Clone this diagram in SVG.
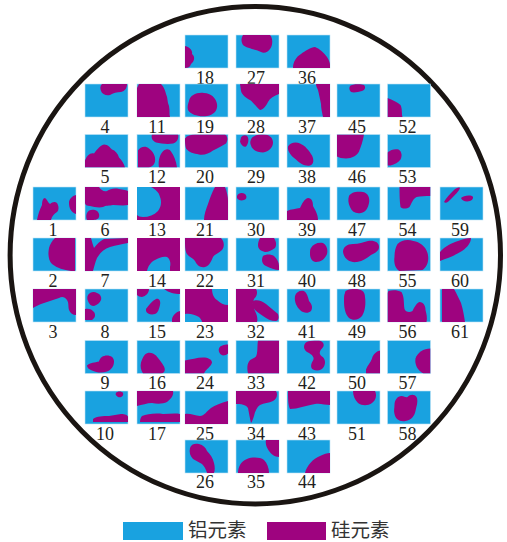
<svg xmlns="http://www.w3.org/2000/svg" width="507" height="542" viewBox="0 0 507 542">
<defs>
<style>
.al{fill:#19A2E0}
.si{fill:#9E037F}
.tile{fill:#19A2E0;stroke:#bfe3f5;stroke-width:0.6}
.lb{font-family:"Liberation Serif","Times New Roman",serif;font-size:18px;fill:#231f20;text-anchor:middle}
.lg{font-family:"Noto Sans CJK SC","Noto Sans",sans-serif;font-size:19.5px;fill:#333}
</style>
<clipPath id="c"><rect width="43" height="33"/></clipPath>
</defs>
<rect width="507" height="542" fill="#fff"/>
<g id="wafer"><ellipse cx="255.3" cy="255.3" rx="245.2" ry="248.7" fill="none" stroke="#1a1512" stroke-width="5"/></g>

<!-- Row A -->
<g id="n18" transform="translate(185,35)"><rect class="tile" width="43" height="33"/><g clip-path="url(#c)"><path class="si" d="M0,11 C5,12 8,16 7,19 C10,21 10,26 6,29 C5,32 3,33 0,33 Z"/></g><text class="lb" x="20" y="48.5">18</text></g>
<g id="n27" transform="translate(236,35)"><rect class="tile" width="43" height="33"/><g clip-path="url(#c)"><path class="si" d="M7,0 L34,0 C37,3 37,10 34,14 C32,17 28,19 25,17 C18,14 10,13 7,10 C5,7 5,3 7,0 Z"/></g><text class="lb" x="20" y="48.5">27</text></g>
<g id="n36" transform="translate(287,35)"><rect class="tile" width="43" height="33"/><g clip-path="url(#c)"><path class="si" d="M6,33 C6,27 9,22 14,19 C18,16 24,12 28,12 C33,14 37,18 40,22 C42,25 43,28 43,30 L43,33 Z"/></g><text class="lb" x="20" y="48.5">36</text></g>

<!-- Row B -->
<g id="n4" transform="translate(85,84)"><rect class="tile" width="43" height="33"/><g clip-path="url(#c)"><path class="si" d="M17,0 L42,0 C42,4 40,7 36,8 C32,8 28,9 25,11 C21,12 17,10 16,7 C15,4 15,2 17,0 Z"/></g><text class="lb" x="20" y="48.5">4</text></g>
<g id="n11" transform="translate(137,84)"><rect class="tile" width="43" height="33"/><g clip-path="url(#c)"><path class="si" d="M2,0 L24,0 C27,3 28,6 29,10 C31,14 30,18 32,22 C33,27 32,30 33,33 L0,33 L0,4 Z"/></g><text class="lb" x="20" y="48.5">11</text></g>
<g id="n19" transform="translate(185,84)"><rect class="tile" width="43" height="33"/><g clip-path="url(#c)"><path class="si" d="M4,17 C5,11 12,8 19,9 C26,9 31,14 32,20 C33,26 29,31 22,32 C14,33 6,31 3,26 C2,23 3,20 4,17 Z"/></g><text class="lb" x="20" y="48.5">19</text></g>
<g id="n28" transform="translate(236,84)"><rect class="tile" width="43" height="33"/><g clip-path="url(#c)"><path class="si" d="M4,0 L43,0 L43,10 C38,12 34,14 32,18 C30,22 27,26 24,26 C21,24 18,19 14,16 C10,14 6,11 5,7 Z"/></g><text class="lb" x="20" y="48.5">28</text></g>
<g id="n37" transform="translate(287,84)"><rect class="tile" width="43" height="33"/><g clip-path="url(#c)"><path class="si" d="M29,0 L43,0 L43,33 L36,33 C35,28 34,24 34,20 C33,15 32,10 31,6 C30,4 29,2 29,0 Z"/></g><text class="lb" x="20" y="48.5">37</text></g>
<g id="n45" transform="translate(337,84)"><rect class="tile" width="43" height="33"/><g clip-path="url(#c)"><path class="si" d="M13,2 C15,0 24,0 27,1 C29,3 28,6 25,7 C21,8 17,9 14,8 C12,6 12,4 13,2 Z"/></g><text class="lb" x="20" y="48.5">45</text></g>
<g id="n52" transform="translate(387.5,84)"><rect class="tile" width="43" height="33"/><g clip-path="url(#c)"><path class="si" d="M0,14 C5,16 10,18 13,21 C15,25 14,30 15,33 L0,33 Z"/></g><text class="lb" x="20" y="48.5">52</text></g>

<!-- Row C -->
<g id="n5" transform="translate(85,134.5)"><rect class="tile" width="43" height="33"/><g clip-path="url(#c)"><path class="si" d="M0,26 C2,21 5,18 9,19 C12,15 15,11 19,10 C23,10 25,13 27,15 C30,16 33,19 34,23 C37,26 39,29 40,33 L0,33 Z"/></g><text class="lb" x="20" y="48.5">5</text></g>
<g id="n12" transform="translate(137,134.5)"><rect class="tile" width="43" height="33"/><g clip-path="url(#c)"><path class="si" d="M15,0 L41,0 C42,4 40,8 36,9 C30,10 24,9 19,8 C15,6 14,3 15,0 Z M1,16 C3,12 9,11 12,14 C16,17 19,22 18,27 C17,31 14,33 10,33 L1,33 Z M22,33 C21,28 22,22 25,18 C28,14 32,14 34,17 C37,21 39,26 40,33 Z"/></g><text class="lb" x="20" y="48.5">12</text></g>
<g id="n20" transform="translate(185,134.5)"><rect class="tile" width="43" height="33"/><g clip-path="url(#c)"><path class="si" d="M0,4 C2,1 6,0 10,0 L40,0 C43,2 43,6 41,9 C37,11 33,14 28,16 C24,19 19,21 14,20 C9,19 4,18 1,14 C0,11 0,7 0,4 Z"/></g><text class="lb" x="20" y="48.5">20</text></g>
<g id="n29" transform="translate(236,134.5)"><rect class="tile" width="43" height="33"/><g clip-path="url(#c)"><path class="si" d="M5,3 C7,0 11,0 12,3 C13,6 12,10 10,12 C7,13 5,10 4,7 Z M15,5 C16,1 22,0 28,0 C33,0 37,3 37,8 C37,13 33,17 27,18 C21,18 16,15 15,11 C14,9 14,7 15,5 Z"/></g><text class="lb" x="20" y="48.5">29</text></g>
<g id="n38" transform="translate(287,134.5)"><rect class="tile" width="43" height="33"/><g clip-path="url(#c)"><path class="si" d="M1,12 C3,8 9,7 13,9 C18,11 22,16 25,21 C27,25 27,30 23,31 C18,32 13,29 9,25 C5,22 0,17 1,12 Z"/></g><text class="lb" x="20" y="48.5">38</text></g>
<g id="n46" transform="translate(337,134.5)"><rect class="tile" width="43" height="33"/><g clip-path="url(#c)"><path class="si" d="M0,0 L27,0 C26,6 24,12 22,17 C20,21 15,24 9,24 C5,24 2,23 0,22 Z"/></g><text class="lb" x="20" y="48.5">46</text></g>
<g id="n53" transform="translate(387.5,134.5)"><rect class="tile" width="43" height="33"/><g clip-path="url(#c)"><path class="si" d="M0,18 C3,15 8,14 11,15 C14,17 15,21 13,25 C11,28 7,30 3,31 L0,31 Z"/></g><text class="lb" x="20" y="48.5">53</text></g>

<!-- Row D -->
<g id="n1" transform="translate(33,187)"><rect class="tile" width="43" height="33"/><g clip-path="url(#c)"><path class="si" d="M4,33 C5,27 7,22 9,18 C9,14 10,11 12,11 C14,12 15,16 17,17 C19,15 22,14 24,16 C26,19 26,23 24,25 C21,27 19,29 18,33 Z M43,8 C39,9 36,12 36,16 C36,21 38,25 43,27 Z"/></g><text class="lb" x="20" y="48.5">1</text></g>
<g id="n6" transform="translate(85,187)"><rect class="tile" width="43" height="33"/><g clip-path="url(#c)"><path class="si" d="M0,0 L14,0 C16,3 19,5 22,4 C25,2 29,1 34,2 C38,3 42,3 43,4 L43,18 C38,19 33,18 28,18 C24,19 21,18 18,20 C14,21 9,20 5,19 C2,19 0,18 0,16 Z M2,26 C3,23 7,22 10,23 C13,24 15,27 14,30 C13,33 9,33 6,33 L2,33 C1,31 1,28 2,26 Z"/></g><text class="lb" x="20" y="48.5">6</text></g>
<g id="n13" transform="translate(137,187)"><rect class="si" width="43" height="33"/><path class="al" d="M0,0 L14,0 C18,2 22,5 23,10 C25,15 24,20 21,24 C17,28 12,30 6,30 C3,30 1,29 0,28 Z"/><text class="lb" x="20" y="48.5">13</text></g>
<g id="n21" transform="translate(185,187)"><rect class="tile" width="43" height="33"/><g clip-path="url(#c)"><path class="si" d="M30,0 L40,0 C42,5 43,10 43,14 L43,33 L19,33 C19,28 21,22 23,17 C25,11 27,5 30,0 Z"/></g><text class="lb" x="20" y="48.5">21</text></g>
<g id="n30" transform="translate(236,187)"><rect class="tile" width="43" height="33"/><g clip-path="url(#c)"><path class="si" d="M1,9 C2,6 6,5 9,7 C11,9 11,12 8,13 C5,14 2,13 1,11 Z"/></g><text class="lb" x="20" y="48.5">30</text></g>
<g id="n39" transform="translate(287,187)"><rect class="tile" width="43" height="33"/><g clip-path="url(#c)"><path class="si" d="M0,24 C4,22 9,22 13,21 C15,17 17,12 21,11 C25,11 26,15 26,19 C28,23 31,27 31,33 L0,33 Z"/></g><text class="lb" x="20" y="48.5">39</text></g>
<g id="n47" transform="translate(337,187)"><rect class="tile" width="43" height="33"/><g clip-path="url(#c)"><path class="si" d="M12,9 C14,5 20,4 26,5 C31,6 33,11 32,16 C31,21 29,25 24,26 C19,27 15,25 13,20 C11,16 11,12 12,9 Z"/></g><text class="lb" x="20" y="48.5">47</text></g>
<g id="n54" transform="translate(387.5,187)"><rect class="tile" width="43" height="33"/><g clip-path="url(#c)"><path class="si" d="M12,0 L43,0 L43,9 C38,9 33,9 29,10 C25,12 24,17 22,20 C19,22 15,22 13,20 C12,14 12,6 12,0 Z"/></g><text class="lb" x="20" y="48.5">54</text></g>
<g id="n59" transform="translate(440,187)"><rect class="tile" width="43" height="33"/><g clip-path="url(#c)"><path class="si" d="M4,15 C6,11 10,7 14,3 C16,1 19,0 20,1 C19,4 15,8 11,12 C8,15 6,17 4,15 Z M21,11 C23,9 28,8 32,9 C34,10 33,13 30,14 C26,15 22,14 21,11 Z"/></g><text class="lb" x="20" y="48.5">59</text></g>

<!-- Row E -->
<g id="n2" transform="translate(33,238)"><rect class="tile" width="43" height="33"/><g clip-path="url(#c)"><path class="si" d="M22,0 L42,0 L42,33 L38,33 C31,32 24,30 19,26 C15,22 15,15 16,10 C17,6 19,3 22,0 Z"/></g><text class="lb" x="20" y="48.5">2</text></g>
<g id="n7" transform="translate(85,238)"><rect class="tile" width="43" height="33"/><g clip-path="url(#c)"><path class="si" d="M0,33 L0,0 L6,0 C7,4 8,7 9,10 C12,6 15,3 19,1 L43,0 L43,5 C38,6 31,7 25,9 C19,11 15,15 12,20 C10,25 9,29 8,33 Z"/></g><text class="lb" x="20" y="48.5">7</text></g>
<g id="n14" transform="translate(137,238)"><rect class="si" width="43" height="33"/><path class="al" d="M10,33 C11,28 14,24 18,22 C22,20 26,18 30,19 C33,21 34,25 33,29 L33,33 Z"/><text class="lb" x="20" y="48.5">14</text></g>
<g id="n22" transform="translate(185,238)"><rect class="tile" width="43" height="33"/><g clip-path="url(#c)"><path class="si" d="M0,0 L36,0 C39,3 40,8 37,12 C34,15 30,16 28,19 C26,24 24,28 20,29 C15,30 12,27 10,23 C8,20 4,19 2,16 C0,13 0,8 0,0 Z"/></g><text class="lb" x="20" y="48.5">22</text></g>
<g id="n31" transform="translate(236,238)"><rect class="tile" width="43" height="33"/><g clip-path="url(#c)"><path class="si" d="M24,0 L38,0 C40,3 41,7 39,10 C36,12 33,14 29,14 C25,13 22,11 22,7 C22,4 23,2 24,0 Z M27,18 C30,16 35,16 38,18 C41,21 43,24 43,28 L43,32 C39,32 34,30 30,28 C26,26 25,22 27,18 Z"/></g><text class="lb" x="20" y="48.5">31</text></g>
<g id="n40" transform="translate(287,238)"><rect class="tile" width="43" height="33"/><g clip-path="url(#c)"><path class="si" d="M24,10 C26,6 31,4 36,5 C40,7 41,12 40,16 C38,21 34,24 29,24 C25,24 23,20 23,16 C23,13 23,11 24,10 Z"/></g><text class="lb" x="20" y="48.5">40</text></g>
<g id="n48" transform="translate(337,238)"><rect class="tile" width="43" height="33"/><g clip-path="url(#c)"><path class="si" d="M6,14 C6,9 10,6 16,6 C22,6 26,4 31,3 C37,2 42,4 42,9 C42,13 38,15 34,17 C30,20 26,23 20,24 C13,25 7,21 6,14 Z"/></g><text class="lb" x="20" y="48.5">48</text></g>
<g id="n55" transform="translate(387.5,238)"><rect class="tile" width="43" height="33"/><g clip-path="url(#c)"><path class="si" d="M10,6 C14,2 20,1 26,3 C32,4 38,8 40,15 C42,22 40,29 35,32 L12,33 C8,31 6,25 7,19 C7,14 8,9 10,6 Z"/></g><text class="lb" x="20" y="48.5">55</text></g>
<g id="n60" transform="translate(440,238)"><rect class="tile" width="43" height="33"/><g clip-path="url(#c)"><path class="si" d="M0,14 C5,8 12,5 18,3 C23,1 27,0 31,0 C31,4 28,9 22,13 C16,17 8,20 0,23 Z"/></g><text class="lb" x="20" y="48.5">60</text></g>

<!-- Row F -->
<g id="n3" transform="translate(33,289)"><rect class="tile" width="43" height="33"/><g clip-path="url(#c)"><path class="si" d="M0,0 L43,0 L43,26 C40,26 37,24 36,21 C35,17 36,14 34,11 C32,8 29,7 26,9 C20,11 14,13 8,15 C5,16 2,18 0,19 Z"/></g><text class="lb" x="20" y="48.5">3</text></g>
<g id="n8" transform="translate(85,289)"><rect class="tile" width="43" height="33"/><g clip-path="url(#c)"><path class="si" d="M3,6 C5,3 9,2 12,4 C15,5 17,8 16,11 C15,14 12,16 9,17 C6,17 4,15 3,12 C2,10 2,8 3,6 Z M0,20 C3,19 7,20 9,23 C11,26 10,29 7,31 L0,31 Z"/></g><text class="lb" x="20" y="48.5">8</text></g>
<g id="n15" transform="translate(137,289)"><rect class="tile" width="43" height="33"/><g clip-path="url(#c)"><path class="si" d="M0,0 L12,0 C12,4 9,7 5,8 C3,8 1,7 0,6 Z M9,20 C12,16 15,12 19,10 C22,9 24,12 23,16 C22,20 21,24 18,25 C14,26 10,25 9,22 Z M27,0 L43,0 L43,5 C38,5 32,4 27,0 Z M43,22 C39,23 36,26 35,30 L35,33 L43,33 Z"/></g><text class="lb" x="20" y="48.5">15</text></g>
<g id="n23" transform="translate(185,289)"><rect class="si" width="43" height="33"/><path class="al" d="M27,0 L43,0 L43,16 C39,16 35,14 32,11 C29,9 27,5 27,0 Z M0,25 C5,24 10,26 14,28 C16,30 17,32 17,33 L0,33 Z"/><text class="lb" x="20" y="48.5">23</text></g>
<g id="n32" transform="translate(236,289)"><rect class="tile" width="43" height="33"/><g clip-path="url(#c)"><path class="si" d="M0,0 L20,0 C22,3 21,7 18,10 C16,14 17,18 19,22 C21,26 22,30 21,33 L0,33 Z M17,12 C21,10 26,12 30,15 C34,18 38,22 42,25 C43,28 43,31 40,32 C35,32 31,30 27,27 C23,24 19,22 17,18 Z"/></g><text class="lb" x="20" y="48.5">32</text></g>
<g id="n41" transform="translate(287,289)"><rect class="tile" width="43" height="33"/><g clip-path="url(#c)"><path class="si" d="M8,7 C9,3 13,1 17,2 C20,4 21,8 22,12 C25,15 26,19 24,22 C21,25 16,24 13,21 C10,18 7,13 8,7 Z"/></g><text class="lb" x="20" y="48.5">41</text></g>
<g id="n49" transform="translate(337,289)"><rect class="tile" width="43" height="33"/><g clip-path="url(#c)"><path class="si" d="M8,4 C8,1 12,0 18,0 C24,0 28,2 28,8 C29,15 28,22 25,27 C22,31 16,32 12,29 C8,25 7,18 7,12 C7,8 7,6 8,4 Z"/></g><text class="lb" x="20" y="48.5">49</text></g>
<g id="n56" transform="translate(387.5,289)"><rect class="tile" width="43" height="33"/><g clip-path="url(#c)"><path class="si" d="M1,2 C5,1 10,1 14,3 C17,8 16,14 17,20 C18,23 22,24 25,22 C27,18 29,14 32,13 C36,13 38,17 38,21 C39,25 40,29 39,33 L0,33 L0,4 Z"/></g><text class="lb" x="20" y="48.5">56</text></g>
<g id="n61" transform="translate(440,289)"><rect class="tile" width="43" height="33"/><g clip-path="url(#c)"><path class="si" d="M2,0 L14,0 C17,5 19,10 21,14 C23,20 24,27 25,33 L2,33 Z"/></g><text class="lb" x="20" y="48.5">61</text></g>

<!-- Row G -->
<g id="n9" transform="translate(85,340.5)"><rect class="tile" width="43" height="33"/><g clip-path="url(#c)"><path class="si" d="M2,25 C5,22 10,22 14,21 C15,17 18,15 22,15 C26,15 29,17 29,21 C29,25 27,29 22,31 C17,33 11,32 7,30 C4,29 2,27 2,25 Z"/></g><text class="lb" x="20" y="48.5">9</text></g>
<g id="n16" transform="translate(137,340.5)"><rect class="tile" width="43" height="33"/><g clip-path="url(#c)"><path class="si" d="M8,14 C11,11 16,12 19,15 C22,19 25,22 27,26 C29,30 27,33 24,33 L6,33 C4,30 3,26 4,22 C5,19 6,16 8,14 Z"/></g><text class="lb" x="20" y="48.5">16</text></g>
<g id="n24" transform="translate(185,340.5)"><rect class="tile" width="43" height="33"/><g clip-path="url(#c)"><path class="si" d="M0,20 C6,19 12,17 18,17 C23,17 27,19 27,22 C26,26 22,28 20,31 L19,33 L0,33 Z M43,4 C39,4 35,5 34,8 C33,11 35,14 38,15 C40,15 42,14 43,13 Z"/></g><text class="lb" x="20" y="48.5">24</text></g>
<g id="n33" transform="translate(236,340.5)"><rect class="tile" width="43" height="33"/><g clip-path="url(#c)"><path class="si" d="M22,0 L43,0 L43,33 L12,33 C11,29 11,24 13,21 C15,18 18,18 20,16 C22,12 21,6 22,0 Z"/></g><text class="lb" x="20" y="48.5">33</text></g>
<g id="n42" transform="translate(287,340.5)"><rect class="tile" width="43" height="33"/><g clip-path="url(#c)"><path class="si" d="M18,3 C20,0 26,0 32,0 C37,1 38,5 35,8 C32,11 32,14 35,16 C38,18 39,22 37,26 C35,30 30,31 26,29 C23,27 24,23 26,20 C28,17 25,14 21,12 C17,10 16,6 18,3 Z"/></g><text class="lb" x="20" y="48.5">42</text></g>
<g id="n50" transform="translate(337,340.5)"><rect class="tile" width="43" height="33"/><g clip-path="url(#c)"><path class="si" d="M43,10 C39,11 36,14 35,18 C34,22 30,25 29,29 L29,33 L43,33 Z"/></g><text class="lb" x="20" y="48.5">50</text></g>
<g id="n57" transform="translate(387.5,340.5)"><rect class="tile" width="43" height="33"/><g clip-path="url(#c)"><path class="si" d="M43,8 C36,8 30,12 28,18 C27,24 30,30 36,33 L43,33 Z"/></g><text class="lb" x="20" y="48.5">57</text></g>

<!-- Row H -->
<g id="n10" transform="translate(85,391)"><rect class="tile" width="43" height="33"/><g clip-path="url(#c)"><path class="si" d="M31,2 C32,0 37,0 38,2 C39,5 36,7 33,6 C31,5 30,3 31,2 Z M8,28 C12,25 18,25 24,25 C28,24 32,24 36,23 C40,23 43,24 43,26 L43,31 L8,31 Z"/></g><text class="lb" x="20" y="48.5">10</text></g>
<g id="n17" transform="translate(137,391)"><rect class="tile" width="43" height="33"/><g clip-path="url(#c)"><path class="si" d="M0,0 L36,0 C37,4 34,8 30,11 C26,13 20,13 15,12 C10,12 5,14 0,15 Z M5,25 C10,23 18,22 26,23 C32,23 38,22 43,23 L43,31 L3,31 C3,28 4,26 5,25 Z"/></g><text class="lb" x="20" y="48.5">17</text></g>
<g id="n25" transform="translate(185,391)"><rect class="tile" width="43" height="33"/><g clip-path="url(#c)"><path class="si" d="M0,23 C5,22 10,25 15,25 C19,25 22,20 26,17 C30,14 36,12 43,10 L43,33 L0,33 Z"/></g><text class="lb" x="20" y="48.5">25</text></g>
<g id="n34" transform="translate(236,391)"><rect class="tile" width="43" height="33"/><g clip-path="url(#c)"><path class="si" d="M0,0 L40,0 C42,3 41,8 37,10 C33,12 28,12 24,14 C21,16 19,20 18,25 C17,28 16,31 15,32 C14,28 13,22 12,17 C10,14 6,13 3,13 L0,13 Z"/></g><text class="lb" x="20" y="48.5">34</text></g>
<g id="n43" transform="translate(287,391)"><rect class="tile" width="43" height="33"/><g clip-path="url(#c)"><path class="si" d="M1,0 L43,0 L43,14 C38,14 33,12 28,13 C23,14 19,15 15,16 C11,17 7,18 3,18 C1,14 1,6 1,0 Z"/></g><text class="lb" x="20" y="48.5">43</text></g>
<g id="n51" transform="translate(337,391)"><rect class="tile" width="43" height="33"/><g clip-path="url(#c)"><path class="si" d="M16,0 L38,0 C40,4 39,9 35,12 C31,15 25,15 21,12 C18,9 16,5 16,0 Z"/></g><text class="lb" x="20" y="48.5">51</text></g>
<g id="n58" transform="translate(387.5,391)"><rect class="tile" width="43" height="33"/><g clip-path="url(#c)"><path class="si" d="M7,14 C7,9 10,5 14,5 C17,5 18,7 20,6 C23,3 27,3 29,6 C31,10 29,15 28,20 C27,25 24,29 18,30 C12,31 8,28 7,23 C6,20 7,17 7,14 Z"/></g><text class="lb" x="20" y="48.5">58</text></g>

<!-- Row I -->
<g id="n26" transform="translate(185,440)"><rect class="tile" width="43" height="33"/><g clip-path="url(#c)"><path class="si" d="M5,8 C6,4 10,3 14,4 C18,5 21,8 22,11 C25,14 28,18 29,23 C30,27 30,30 29,33 L22,33 C21,29 19,26 17,24 C14,22 11,21 8,19 C5,16 4,12 5,8 Z"/></g><text class="lb" x="20" y="48">26</text></g>
<g id="n35" transform="translate(236,440)"><rect class="tile" width="43" height="33"/><g clip-path="url(#c)"><path class="si" d="M2,33 C2,27 5,21 11,19 C16,17 24,17 28,20 C31,23 33,28 33,33 Z M30,0 L43,0 L43,17 C39,17 35,14 33,11 C31,8 29,4 30,0 Z"/></g><text class="lb" x="20" y="48">35</text></g>
<g id="n44" transform="translate(287,440)"><rect class="tile" width="43" height="33"/><g clip-path="url(#c)"><path class="si" d="M18,33 C20,25 26,19 33,16 C37,14 40,13 43,13 L43,33 Z"/></g><text class="lb" x="20" y="48">44</text></g>

<!-- Legend -->
<g id="legend-al"><rect class="al" x="123" y="522" width="60" height="18"/><text class="lg" x="188" y="537">铝元素</text></g>
<g id="legend-si"><rect class="si" x="267" y="522" width="59" height="18"/><text class="lg" x="331" y="537">硅元素</text></g>
</svg>
